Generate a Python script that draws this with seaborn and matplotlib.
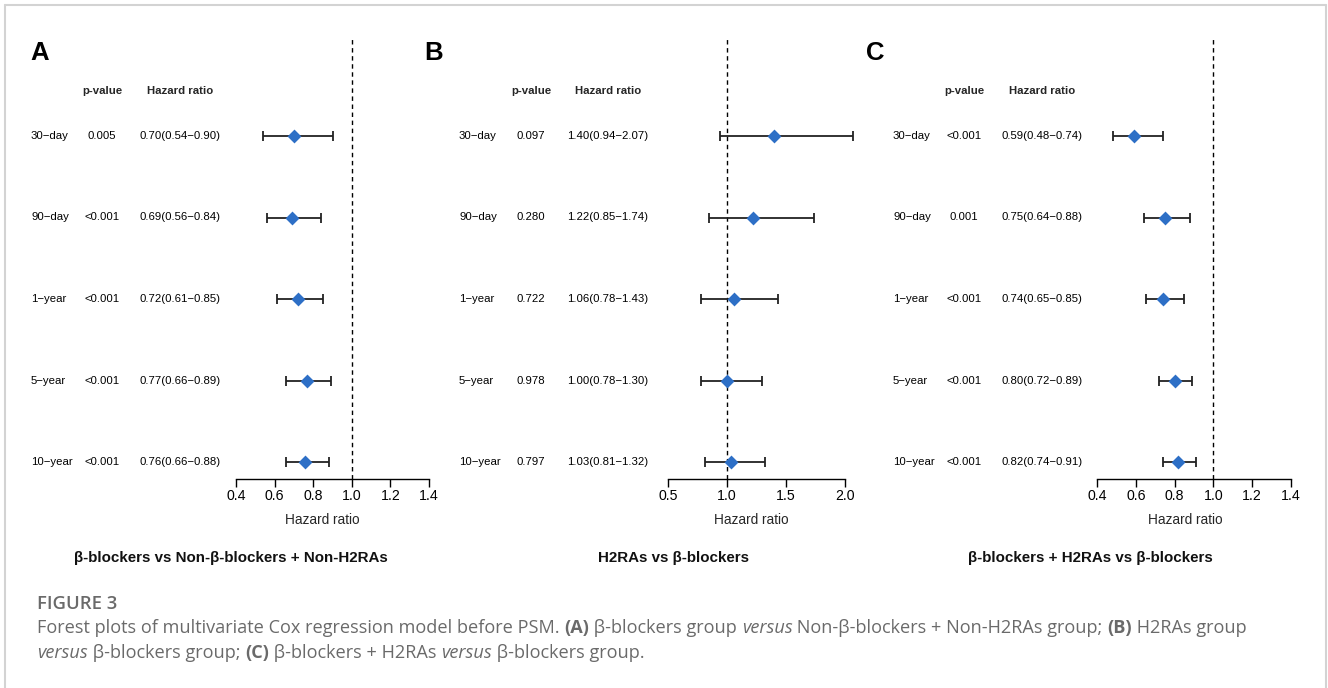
import numpy as np
import pandas as pd
import matplotlib
matplotlib.use("Agg")
import matplotlib.pyplot as plt
import seaborn as sns
from matplotlib.transforms import blended_transform_factory
from matplotlib.lines import Line2D

# ---------------- data ----------------
rows = ["30−day", "90−day", "1−year", "5−year", "10−year"]

A_p = ["0.005", "<0.001", "<0.001", "<0.001", "<0.001"]
A_hr = [0.70, 0.69, 0.72, 0.77, 0.76]
A_lo = [0.54, 0.56, 0.61, 0.66, 0.66]
A_hi = [0.90, 0.84, 0.85, 0.89, 0.88]

B_p = ["0.097", "0.280", "0.722", "0.978", "0.797"]
B_hr = [1.40, 1.22, 1.06, 1.00, 1.03]
B_lo = [0.94, 0.85, 0.78, 0.78, 0.81]
B_hi = [2.07, 1.74, 1.43, 1.30, 1.32]

C_p = ["<0.001", "0.001", "<0.001", "<0.001", "<0.001"]
C_hr = [0.59, 0.75, 0.74, 0.80, 0.82]
C_lo = [0.48, 0.64, 0.65, 0.72, 0.74]
C_hi = [0.74, 0.88, 0.85, 0.89, 0.91]

A_ticks = [0.4, 0.6, 0.8, 1.0, 1.2, 1.4]
B_ticks = [0.5, 1.0, 1.5, 2.0]
C_ticks = [0.4, 0.6, 0.8, 1.0, 1.2, 1.4]

panel_letters = ["A", "B", "C"]
subtitles = ["β-blockers vs Non-β-blockers + Non-H2RAs",
             "H2RAs vs β-blockers",
             "β-blockers + H2RAs vs β-blockers"]
col_headers = ["p-value", "Hazard ratio"]
xlabel = "Hazard ratio"
fig_label = "FIGURE 3"
caption_l1 = [("Forest plots of multivariate Cox regression model before PSM. ", "normal", "normal"),
              ("(A)", "bold", "normal"),
              (" β-blockers group ", "normal", "normal"),
              ("versus", "normal", "italic"),
              (" Non-β-blockers + Non-H2RAs group; ", "normal", "normal"),
              ("(B)", "bold", "normal"),
              (" H2RAs group", "normal", "normal")]
caption_l2 = [("versus", "normal", "italic"),
              (" β-blockers group; ", "normal", "normal"),
              ("(C)", "bold", "normal"),
              (" β-blockers + H2RAs ", "normal", "normal"),
              ("versus", "normal", "italic"),
              (" β-blockers group.", "normal", "normal")]

# ---------------- style ----------------
sns.set_theme(style="white")
plt.rcParams["font.family"] = ["Liberation Sans", "DejaVu Sans"]

W, H = 1328, 688
fig = plt.figure(figsize=(W / 100, H / 100), dpi=100)

def fx(px):
    return px / W

def fy(py):
    return 1 - py / H

# panel layout (pixels)
layout = [
    dict(left=236, right=429, lab=31, p=102, hr=180, letter=30, sub=231, xl=322),
    dict(left=668, right=845, lab=459, p=531, hr=608, letter=424, sub=673, xl=751),
    dict(left=1097, right=1291, lab=893, p=964, hr=1042, letter=866, sub=1090, xl=1185),
]
top_px, bot_px = 37, 479
row0_px, row_step = 136, 81.5

panels = [
    (A_p, A_hr, A_lo, A_hi, A_ticks),
    (B_p, B_hr, B_lo, B_hi, B_ticks),
    (C_p, C_hr, C_lo, C_hi, C_ticks),
]

blue = "#2D6FC6"
fs_tab = 8.2

for i, ((pv, hr, lo, hi, ticks), L) in enumerate(zip(panels, layout)):
    ax = fig.add_axes([fx(L["left"]), fy(bot_px), fx(L["right"] - L["left"]), (bot_px - top_px) / H])
    ax.set_facecolor("none")
    df = pd.DataFrame({"row": np.arange(len(rows)), "hr": hr, "lo": lo, "hi": hi})
    y_top = (top_px - row0_px) / row_step
    y_bot = (bot_px - row0_px) / row_step
    ax.set_ylim(y_bot, y_top)
    ax.set_xlim(ticks[0], ticks[-1])

    ax.axvline(1.0, color="black", lw=1.0, ls=(0, (3.2, 2.6)), zorder=1)
    ax.errorbar(df["hr"], df["row"], xerr=[df["hr"] - df["lo"], df["hi"] - df["hr"]],
                fmt="none", ecolor="#222222", elinewidth=1.3, capsize=3.7, capthick=1.3,
                zorder=2, clip_on=False)
    sns.scatterplot(data=df, x="hr", y="row", marker="D", s=50, color=blue,
                    edgecolor=blue, linewidth=0, ax=ax, zorder=3, clip_on=False, legend=False)

    for s in ["top", "left", "right"]:
        ax.spines[s].set_visible(False)
    ax.spines["bottom"].set_color("black")
    ax.spines["bottom"].set_linewidth(1.0)
    ax.set_yticks([])
    ax.set_xticks(ticks)
    ax.set_xticklabels([f"{t:.1f}" for t in ticks])
    ax.tick_params(axis="x", direction="out", length=6, width=1.0, color="black",
                   labelsize=10.2, pad=1.5, bottom=True, labelcolor="black")
    ax.set_xlabel("")
    ax.set_ylabel("")

    tr = blended_transform_factory(fig.transFigure, ax.transData)
    for r in range(len(rows)):
        ax.text(fx(L["lab"]), r, rows[r], transform=tr, ha="left", va="center",
                fontsize=fs_tab, color="black")
        ax.text(fx(L["p"]), r, pv[r], transform=tr, ha="center", va="center",
                fontsize=fs_tab, color="black")
        ax.text(fx(L["hr"]), r, f"{hr[r]:.2f}({lo[r]:.2f}−{hi[r]:.2f})", transform=tr,
                ha="center", va="center", fontsize=fs_tab, color="black")

    fig.text(fx(L["p"]), fy(91), col_headers[0], ha="center", va="center",
             fontsize=fs_tab, fontweight="bold")
    fig.text(fx(L["hr"]), fy(91), col_headers[1], ha="center", va="center",
             fontsize=fs_tab, fontweight="bold")
    fig.text(fx(L["letter"]), fy(53), panel_letters[i], ha="left", va="center",
             fontsize=18.5, fontweight="bold", color="black")
    fig.text(fx(L["xl"]), fy(520), xlabel, ha="center", va="center", fontsize=9.8)
    fig.text(fx(L["sub"]), fy(558), subtitles[i], ha="center", va="center",
             fontsize=10.9, fontweight="bold", color="#111111")

# ---------------- caption ----------------
cap_color = "#6a6a6a"
cap_font = ["Open Sans", "DejaVu Sans"]
fig.text(fx(37), fy(604), fig_label, ha="left", va="center", fontsize=13.3,
         family=cap_font, color=cap_color, fontweight="semibold")

renderer = fig.canvas.get_renderer()

def draw_line(segments, x0, ypx, size):
    x = x0
    for txt, wt, st in segments:
        t = fig.text(fx(x), fy(ypx), txt, ha="left", va="center", fontsize=size,
                     family=cap_font, color=cap_color, fontweight=wt, fontstyle=st)
        bb = t.get_window_extent(renderer=renderer)
        x += bb.width

draw_line(caption_l1, 37, 628, 13.1)
draw_line(caption_l2, 37, 653, 13.1)

# ---------------- border ----------------
bc = "#d3d3d3"
fig.add_artist(Line2D([fx(5), fx(5)], [fy(5), 0], transform=fig.transFigure, color=bc, lw=1.5))
fig.add_artist(Line2D([fx(5), fx(1326)], [fy(5), fy(5)], transform=fig.transFigure, color=bc, lw=1.5))
fig.add_artist(Line2D([fx(1326), fx(1326)], [fy(5), 0], transform=fig.transFigure, color=bc, lw=1.5))

fig.savefig("out.png", dpi=100, facecolor="white")
